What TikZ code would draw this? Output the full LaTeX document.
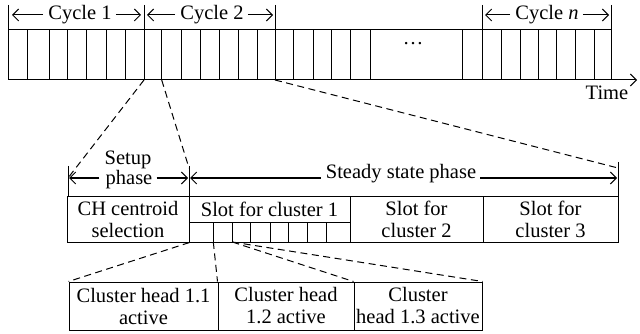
\documentclass[tikz,border=0pt]{standalone}
\usepackage{fontspec}
\setmainfont{Liberation Serif}
\usetikzlibrary{arrows.meta}
\begin{document}
\begin{tikzpicture}[x=1pt,y=-1pt,
  ln/.style={line width=1pt},
  dashln/.style={line width=1pt, dash pattern=on 7pt off 4.5pt},
  arr/.style={line width=1pt,-{Straight Barb[length=6pt,width=12pt,line width=1pt]}},
  lbl/.style={inner sep=0pt, font=\fontsize{20.5}{22}\selectfont, align=center},
  box/.style={draw, line width=1pt, inner sep=0pt, font=\fontsize{20.5}{22}\selectfont, align=center}
]
\useasboundingbox (0,0) rectangle (640,334);

% ---- top time bar ----
\draw[ln] (8,30) -- (611,30);
\draw[arr] (8,80) -- (637,80);
\foreach \x in {8,144,275,482,611} \draw[ln] (\x,5) -- (\x,80);
\foreach \x in {27.3,49.3,67.7,86.7,106,125,161.7,181,200,219,238.3,257.7,293.3,313,331.7,350.7,370,462.7,501.7,520,538.3,556.7,575,594}
  \draw[ln] (\x,30) -- (\x,80);

\node[lbl] (c1) at (80,15) {Cycle 1};
\draw[arr] ([xshift=-5pt]c1.west) -- (12,15);
\draw[arr] ([xshift=4pt]c1.east) -- (141,15);
\node[lbl] (c2) at (212,15) {Cycle 2};
\draw[arr] ([xshift=-5pt]c2.west) -- (147,15);
\draw[arr] ([xshift=4pt]c2.east) -- (273,15);
\node[lbl] (cn) at (547,15) {Cycle \textit{n}};
\draw[arr] ([xshift=-5pt]cn.west) -- (485,15);
\draw[arr] ([xshift=4pt]cn.east) -- (609,15);

\node[lbl] (dots) at (413,44) {\dots};
\node[lbl] (time) at (607,93) {Time};

\coordinate (p1) at (144,80);
\coordinate (p2) at (161.7,80);
\coordinate (p3) at (275,80);

% ---- phases ----
\coordinate (tl) at (68,178);
\coordinate (tm) at (189,168);
\coordinate (tr) at (618,168);
\draw[ln] (68,166) -- (68,196);
\draw[ln] (189,166) -- (189,196);
\draw[ln] (618,162) -- (618,196);

\node[lbl] (setup) at (128,160) {Setup};
\node[lbl] (phase) at (129,180) {phase};
\draw[arr] ([xshift=-6pt]phase.west |- 0,178) -- (69,178);
\draw[arr] ([xshift=4pt]phase.east |- 0,178) -- (188,178);

\node[lbl] (ss) at (401,174) {Steady state phase};
\draw[arr] ([xshift=-5pt]ss.west |- 0,178) -- (190,178);
\draw[arr] ([xshift=4pt]ss.east |- 0,178) -- (617,178);

\draw[dashln] (p1) -- (tl);
\draw[dashln] (p2) -- (tm);
\draw[dashln] (p3) -- (tr);

% ---- frame row ----
\node[box, minimum width=122pt, minimum height=46pt] (ch) at (128,219) {CH centroid\\selection};
\node[box, minimum width=161pt, minimum height=26pt] (s1) at (269.5,209) {Slot for cluster 1};
\draw[ln] (189,222) rectangle (350,242);
\foreach \x in {213.3,232.3,250.7,270,288.3,307.7,326.7} \draw[ln] (\x,222) -- (\x,242);
\node[box, minimum width=133pt, minimum height=46pt] (s2) at (416.5,219) {Slot for\\cluster 2};
\node[box, minimum width=135pt, minimum height=46pt] (s3) at (550.5,219) {Slot for\\cluster 3};

\coordinate (q2) at (213.3,242);
\coordinate (q3) at (232.3,242);

% ---- cluster head row ----
\node[box, minimum width=149pt, minimum height=48pt] (b1) at (143.5,306) {Cluster head 1.1\\active};
\node[box, minimum width=136pt, minimum height=48pt] (b2) at (286,306) {Cluster head\\1.2 active};
\node[box, minimum width=128pt, minimum height=48pt] (b3) at (418,306) {Cluster\\head 1.3 active};

\draw[dashln] (ch.south east) -- (b1.north west);
\draw[dashln] (q2) -- (b2.north west);
\draw[dashln] (q3) -- (b3.north west);
\draw[dashln] (q3) -- (b3.north east);
\end{tikzpicture}
\end{document}
